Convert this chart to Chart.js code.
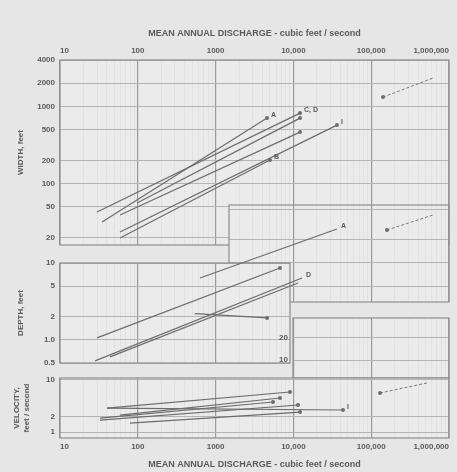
<!DOCTYPE html>
<html>
<head>
<meta charset="utf-8">
<script src="https://cdn.jsdelivr.net/npm/chart.js@4.4.1/dist/chart.umd.min.js"></script>
<style>
  html, body { margin: 0; padding: 0; background: #e6e6e6; }
  #wrap { position: relative; width: 457px; height: 472px; overflow: hidden; }
  #wrap canvas { position: absolute; left: 0; top: 0; width: 457px; height: 472px; }
</style>
</head>
<body>
<div id="wrap">
  <canvas id="cWidth" width="457" height="472"></canvas>
  <canvas id="cBigDepth" width="457" height="472"></canvas>
  <canvas id="cDepth" width="457" height="472"></canvas>
  <canvas id="cBigVel" width="457" height="472"></canvas>
  <canvas id="cVelocity" width="457" height="472"></canvas>
</div>
<script>
/* --------------- Data ----------------------------------------- */
// each line: [discharge at start, discharge at end] and [value at start, value at end]
const widthTicks = [20, 50, 100, 200, 500, 1000, 2000, 4000];
const widthNames = ['A', 'C, D', '', '', 'I', 'B'];
const widthQ = [[34.7, 4580], [29.9, 12170], [97.7, 12170], [59, 12170], [59, 36300], [59, 5000]];
const widthW = [[31.8, 706], [42.8, 820], [56, 706], [39.1, 465], [23.6, 573], [19.7, 202]];
const bigWidthQ = [141800, 622000];
const bigWidthW = [1322, 2330];

const depthTicks = [0.5, 1, 2, 5, 10];
const depthNames = ['A', '', 'D', '', ''];
const depthQ = [[630, 36300], [29.9, 6720], [28.2, 12900], [43.9, 11460], [540, 4580]];
const depthD = [[6.39, 27.7], [1.06, 8.61], [0.533, 6.39], [0.60, 5.50], [2.2, 1.93]];
const bigDepthTicks = [5, 10, 20, 50];
const bigDepthQ = [159600, 622000];
const bigDepthD = [26.9, 42.2];

const sideTicks = [10, 20];

const velocityTicks = [1, 2, 10];
const velocityNames = ['', '', '', '', 'I', ''];
const velocityQ = [[40.2, 9040], [32.7, 5470], [59, 6720], [32.7, 11460], [40.2, 43400], [79.4, 12170]];
const velocityV = [[2.89, 5.88], [1.86, 3.78], [2.12, 4.51], [1.70, 3.31], [2.89, 2.65], [1.49, 2.42]];
const bigVelocityQ = [129700, 521000];
const bigVelocityV = [5.62, 8.76];

/* --------------- Shared look --------------------- */
const INK = '#5a5a5a';
const LINE = '#6c6c6c';
const FONT = "'Liberation Sans', Arial, sans-serif";
const W = 457, H = 472;
const PLOT_L = 60, PLOT_R = 449;
const DEC = (PLOT_R - PLOT_L) / 5;            // px per decade, 10 .. 1,000,000
const qAt = px => Math.pow(10, 1 + (px - PLOT_L) / DEC);
const TITLE_X = 'MEAN ANNUAL DISCHARGE - cubic feet / second';

function isDecade(v) {
  const l = Math.log10(v);
  return Math.abs(l - Math.round(l)) < 1e-6;
}
function logTicks(min, max) {
  const out = [];
  for (let e = Math.floor(Math.log10(min)); e <= Math.ceil(Math.log10(max)); e++) {
    for (let m = 1; m < 10; m++) {
      const v = m * Math.pow(10, e);
      if (v >= min * 0.999 && v <= max * 1.001) out.push(v);
    }
  }
  return out;
}
const fmtQ = v => v >= 10000 ? v.toLocaleString('en-US') : String(v);
const fmtDepth = v => v === 1 ? '1.0' : String(v);

/* --------------- Panel plugin: fill, frame, letters --------------------- */
const panelBox = {
  id: 'panelBox',
  beforeDraw(chart) {
    const { ctx, chartArea: a } = chart;
    ctx.save();
    ctx.fillStyle = '#ebebeb';
    ctx.fillRect(a.left, a.top, a.right - a.left, a.bottom - a.top);
    ctx.restore();
  },
  beforeDatasetsDraw(chart) {
    const { ctx, chartArea: a } = chart;
    ctx.save();
    ctx.strokeStyle = '#8e8e8e';
    ctx.lineWidth = 1.2;
    ctx.strokeRect(a.left, a.top, a.right - a.left, a.bottom - a.top);
    ctx.restore();
  },
  afterDatasetsDraw(chart) {
    const { ctx } = chart;
    ctx.save();
    ctx.font = 'bold 7px ' + FONT;
    ctx.fillStyle = INK;
    ctx.textBaseline = 'middle';
    chart.data.datasets.forEach((ds, i) => {
      if (!ds.tag) return;
      const pts = chart.getDatasetMeta(i).data;
      const p = pts[pts.length - 1];
      ctx.fillText(ds.tag, p.x + 4, p.y - 3);
    });
    ctx.restore();
  }
};

/* --------------- Scales --------------------- */
function xScale(min, max, pos, height, labels, title, titlePad) {
  return {
    type: 'logarithmic', position: pos, min, max,
    afterBuildTicks: s => { s.ticks = logTicks(min, max).map(v => ({ value: v })); },
    ticks: {
      display: labels, autoSkip: false, maxRotation: 0, minRotation: 0, align: 'inner', padding: 4,
      color: INK, font: { size: 8, weight: 'bold', family: FONT },
      callback: v => isDecade(v) ? fmtQ(v) : ''
    },
    grid: {
      drawTicks: false,
      color: c => isDecade(c.tick.value) ? '#9a9a9a' : 'rgba(0,0,0,0.035)',
      lineWidth: c => isDecade(c.tick.value) ? 1.2 : 1
    },
    border: { display: false },
    title: title ? { display: true, text: title, color: INK, font: { size: 9, weight: 'bold', family: FONT }, padding: titlePad } : { display: false },
    afterFit: s => { s.height = height; s.paddingLeft = 0; s.paddingRight = 0; }
  };
}

function yScale(min, max, ticks, fmt, width, title, titleTop) {
  return {
    type: 'logarithmic', min, max,
    afterBuildTicks: s => { s.ticks = ticks.map(v => ({ value: v })); },
    ticks: {
      display: !!fmt, autoSkip: false, padding: 5,
      color: INK, font: { size: 8, weight: 'bold', family: FONT },
      callback: v => fmt ? fmt(v) : ''
    },
    grid: { drawTicks: false, color: '#b4b4b4' },
    border: { display: false },
    title: title ? { display: true, text: title, color: INK, font: { size: 8, weight: 'bold', family: FONT }, padding: { top: titleTop, bottom: 0 } } : { display: false },
    afterFit: s => { s.width = width; s.paddingTop = 0; s.paddingBottom = 0; }
  };
}

function lines(qs, vs, names, extra) {
  return qs.map((q, i) => Object.assign({
    data: q.map((x, j) => ({ x, y: vs[i][j] })),
    tag: names[i] || '',
    borderColor: LINE, borderWidth: 1.2,
    pointRadius: [0, 2], pointBackgroundColor: LINE, pointBorderWidth: 0,
    clip: false
  }, extra || {}));
}

function bigLine(q, v) {
  return {
    data: q.map((x, j) => ({ x, y: v[j] })),
    borderColor: '#7a7a7a', borderWidth: 1, borderDash: [3, 2],
    pointRadius: [2, 0], pointBackgroundColor: LINE, pointBorderWidth: 0,
    clip: false
  };
}

function panel(id, plot, x, y, datasets, axisW, axisTop, axisBot) {
  return new Chart(document.getElementById(id), {
    type: 'line',
    data: { datasets },
    plugins: [panelBox],
    options: {
      responsive: false, animation: false, events: [],
      layout: { padding: { left: plot.l - axisW, right: W - plot.r, top: plot.t - axisTop, bottom: H - plot.b - axisBot } },
      plugins: { legend: { display: false }, tooltip: { enabled: false } },
      scales: { x, y }
    }
  });
}

/* --------------- Width panel --------------------- */
panel('cWidth', { l: PLOT_L, r: PLOT_R, t: 60, b: 245 },
  xScale(10, 1e6, 'top', 60, true, TITLE_X, { top: 28, bottom: 0 }),
  yScale(16, 4000, widthTicks, String, 60, 'WIDTH, feet', 16),
  lines(widthQ, widthW, widthNames).concat([bigLine(bigWidthQ, bigWidthW)]),
  60, 60, 0);

/* --------------- Large-river depth box --------------------- */
panel('cBigDepth', { l: 229, r: PLOT_R, t: 205, b: 302 },
  xScale(qAt(229), 1e6, 'bottom', 0, false),
  yScale(3.1, 57, bigDepthTicks, null, 0),
  [bigLine(bigDepthQ, bigDepthD)],
  0, 0, 0);

/* --------------- Depth panel --------------------- */
panel('cDepth', { l: PLOT_L, r: 290, t: 263, b: 363 },
  xScale(10, qAt(290), 'bottom', 0, false),
  yScale(0.5, 10, depthTicks, fmtDepth, 60, 'DEPTH, feet', 16),
  lines(depthQ, depthD, depthNames),
  60, 0, 0);

/* --------------- Side box above velocity --------------------- */
panel('cBigVel', { l: 293, r: PLOT_R, t: 318, b: 378 },
  xScale(qAt(293), 1e6, 'bottom', 0, false),
  yScale(5.8, 36, sideTicks, String, 24),
  [],
  24, 0, 0);

/* --------------- Velocity panel --------------------- */
panel('cVelocity', { l: PLOT_L, r: PLOT_R, t: 378, b: 438 },
  xScale(10, 1e6, 'bottom', 34, true, TITLE_X, { top: 0, bottom: 2 }),
  yScale(0.77, 10.9, velocityTicks, String, 60, ['VELOCITY,', 'feet / second'], 12),
  lines(velocityQ, velocityV, velocityNames).concat([bigLine(bigVelocityQ, bigVelocityV)]),
  60, 0, 34);
</script>
</body>
</html>
